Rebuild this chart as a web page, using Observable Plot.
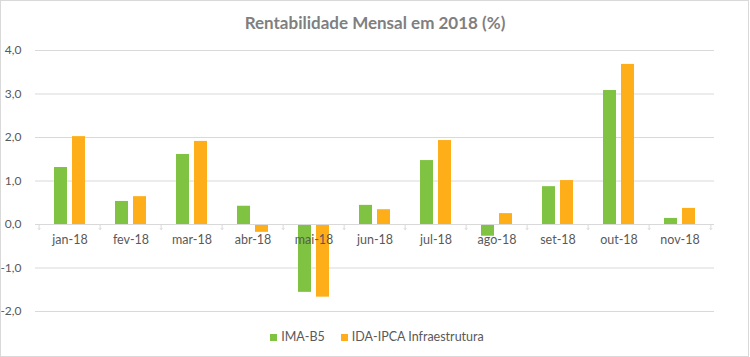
<!DOCTYPE html>
<html>
<head>
<meta charset="utf-8">
<script src="https://cdn.jsdelivr.net/npm/d3@7"></script>
<script src="https://cdn.jsdelivr.net/npm/@observablehq/plot@0.6"></script>
<style>
  body { margin: 0; background: #fff; width: 750px; height: 357px; position: relative; overflow: hidden; font-family: Lato, "Open Sans", sans-serif; }
  #frame { position: absolute; left: 0; top: 0; width: 749px; height: 357px; box-sizing: border-box; border: 1px solid #d9d9d9; pointer-events: none; }
  #title { position: absolute; left: 0; top: 13px; width: 750px; text-align: center; font-size: 17px; line-height: 20px; font-weight: bold; color: #7f7f7f; }
  #chart { position: absolute; left: 0; top: 40px; }
  #legend { position: absolute; left: 0; top: 329px; width: 754px; display: flex; justify-content: center; align-items: center; font-size: 12.5px; line-height: 16px; color: #595959; }
  .item { display: flex; align-items: center; margin: 0 8px; }
  .sw { width: 7px; height: 7px; margin-right: 4px; }
</style>
</head>
<body>
<div id="title">Rentabilidade Mensal em 2018 (%)</div>
<div id="chart"></div>
<div id="legend"></div>
<div id="frame"></div>
<script>
const months = ["jan-18","fev-18","mar-18","abr-18","mai-18","jun-18","jul-18","ago-18","set-18","out-18","nov-18"];
const imaB5 = [1.31, 0.53, 1.61, 0.42, -1.56, 0.44, 1.47, -0.27, 0.87, 3.08, 0.14];
const idaIpca = [2.02, 0.64, 1.91, -0.18, -1.67, 0.34, 1.93, 0.25, 1.01, 3.68, 0.37];
const seriesNames = ["IMA-B5", "IDA-IPCA Infraestrutura"];
const seriesColors = ["#80c342", "#fdae19"];
const yTicks = [-2, -1, 0, 1, 2, 3, 4];

const W = 750, H = 282, ML = 35, MR = 36, MT = 10, MB = 11;
const step = (W - ML - MR) / months.length;

const green = months.map((m, i) => ({month: m, value: imaB5[i]}));
const orange = months.map((m, i) => ({month: m, value: idaIpca[i]}));
const fmt = d => d.toFixed(1).replace(".", ",");

const chart = Plot.plot({
  width: W, height: H,
  marginLeft: ML, marginRight: MR, marginTop: MT, marginBottom: MB,
  style: {fontFamily: "Lato, 'Open Sans', sans-serif", background: "transparent"},
  x: {type: "band", domain: months, padding: 0, axis: null, label: null},
  y: {domain: [-2, 4], axis: null, label: null},
  marks: [
    Plot.ruleY(yTicks, {stroke: "#d9d9d9", strokeWidth: 1}),
    Plot.axisY(yTicks, {tickSize: 0, tickPadding: 14, tickFormat: fmt, fontSize: 12, fill: "#595959", label: null}),
    Plot.barY(green, {x: "month", y: "value", fill: seriesColors[0], insetLeft: 15, insetRight: 33}),
    Plot.barY(orange, {x: "month", y: "value", fill: seriesColors[1], insetLeft: 33, insetRight: 15}),
    Plot.ruleY([0], {stroke: "#d9d9d9", strokeWidth: 1}),
    Plot.vector(months, {x: d => d, y: () => 0, length: 5, rotate: 180, anchor: "start", dx: -step / 2, stroke: "#d9d9d9", strokeWidth: 1}),
    Plot.vector([months[months.length - 1]], {x: d => d, y: () => 0, length: 5, rotate: 180, anchor: "start", dx: step / 2, stroke: "#d9d9d9", strokeWidth: 1}),
    Plot.text(months, {x: d => d, y: () => 0, dy: 15, text: d => d, fontSize: 12.5, fill: "#595959"})
  ]
});
document.getElementById("chart").appendChild(chart);

const legend = document.getElementById("legend");
seriesNames.forEach((name, i) => {
  const item = document.createElement("div");
  item.className = "item";
  const sw = document.createElement("div");
  sw.className = "sw";
  sw.style.background = seriesColors[i];
  const label = document.createElement("span");
  label.textContent = name;
  item.appendChild(sw);
  item.appendChild(label);
  legend.appendChild(item);
});
</script>
</body>
</html>
